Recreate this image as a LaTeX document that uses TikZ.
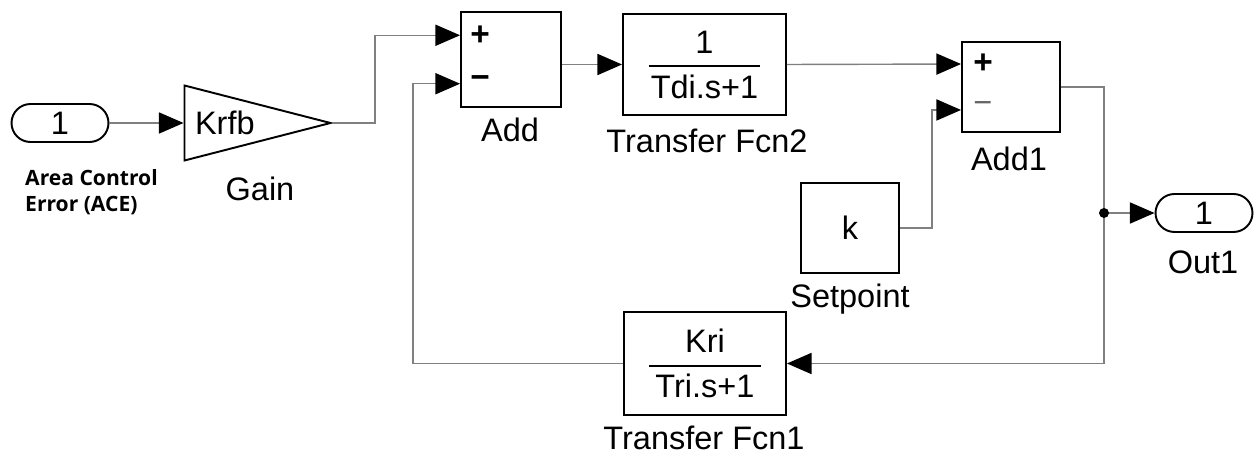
\documentclass[tikz,border=0pt]{standalone}
\usepackage{fontspec}
\setmainfont{Liberation Sans}
\newfontfamily\acefont{Open Sans}
\usetikzlibrary{shapes.geometric,shapes.misc,arrows.meta,calc}

% fraction d'une fonction de transfert
\newcommand{\simfrac}[2]{#1\\[-12pt]\rule{2.24cm}{1.1pt}\\[-2.4pt]#2}

\begin{document}
\begin{tikzpicture}[
  x=0.02cm, y=-0.02cm,
  every node/.style={font=\fontsize{18.5}{20}\selectfont},
  bloc/.style={rectangle,draw=black,line width=1.1pt,inner sep=0pt,
               align=center},
  port/.style={rounded rectangle,draw=black,line width=1.1pt,inner sep=0pt,
               minimum width=1.94cm,minimum height=0.76cm},
  gainbox/.style={isosceles triangle,isosceles triangle stretches,
                  shape border rotate=0,draw=black,line width=1.1pt,
                  inner sep=0pt,minimum width=1.5cm,minimum height=2.92cm},
  signe/.style={font=\fontsize{19}{20}\selectfont\bfseries},
  fil/.style={draw=black!50,line width=0.8pt},
  sig/.style={fil,-{Triangle[length=14pt,width=12pt,color=black]}}
]
  \useasboundingbox (0,0) rectangle (1255,455);

  % Entree
  \node[port] (in1) at (60,123) {1};
  \node[anchor=north west,align=left,
        font=\acefont\bfseries\fontsize{12}{15}\selectfont]
    (ace) at (19,163) {Area Control\\Error (ACE)};

  % Gain
  \node[gainbox,anchor=apex,
        label={[anchor=west,xshift=3pt]west:Krfb}]
    (gain) at (333,123) {};
  \node (gainlbl) at (260,189) {Gain};

  % Sommateur Add
  \node[bloc,minimum width=2cm,minimum height=1.9cm] (add) at (511,59.5) {};
  \coordinate (add-in1) at ($(add.north west)!0.25!(add.south west)$);
  \coordinate (add-in2) at ($(add.north west)!0.75!(add.south west)$);
  \node[signe,anchor=west] (add-p) at ($(add-in1)+(4,0)$) {+};
  \node[signe,anchor=west] (add-m) at ($(add-in2)+(4,-2)$) {−};
  \node (addlbl) at (510,130) {Add};

  % Transfer Fcn2
  \node[bloc,minimum width=3.26cm,minimum height=2.02cm]
    (tf2) at (704.5,64.5) {\simfrac{1}{Tdi.s+1}};
  \node (tf2lbl) at (707,141) {Transfer Fcn2};

  % Sommateur Add1
  \node[bloc,minimum width=1.96cm,minimum height=1.8cm] (add1) at (1011,87) {};
  \coordinate (add1-in1) at ($(add1.north west)!0.25!(add1.south west)$);
  \coordinate (add1-in2) at ($(add1.north west)!0.75!(add1.south west)$);
  \node[signe,anchor=west] (add1-p) at ($(add1-in1)+(6,0)$) {+};
  \node[anchor=west,text=black!60] (add1-m) at ($(add1-in2)+(6,-2)$) {−};
  \node (add1lbl) at (1009,159) {Add1};

  % Consigne
  \node[bloc,minimum width=1.96cm,minimum height=1.8cm] (setp) at (850,228) {k};
  \node (setplbl) at (850,299) {Setpoint};

  % Sortie
  \node[port] (out1) at (1204,213) {1};
  \node (out1lbl) at (1203,262) {Out1};
  \coordinate (branch) at (1104,213);

  % Transfer Fcn1
  \node[bloc,minimum width=3.24cm,minimum height=2.06cm]
    (tf1) at (705,363.5) {\simfrac{Kri}{Tri.s+1}};
  \node (tf1lbl) at (704,438) {Transfer Fcn1};

  % Liaisons
  \draw[sig] (in1.east) -- (gain.west);
  \draw[sig] (gain.apex) -- ++(42,0) |- (add-in1);
  \draw[sig] (add.east |- tf2.west) -- (tf2.west);
  \draw[sig] (tf2.east) -- (add1-in1);
  \draw[sig] (setp.east) -- ++(32,0) |- (add1-in2);
  \draw[fil] (add1.east) -| (branch);
  \draw[sig] (branch) |- (tf1.east);
  \draw[sig] (branch) -- (out1.west);
  \draw[sig] (tf1.west) -- ++(-210,0) |- (add-in2);
  \fill (branch) circle[radius=0.1cm];

\end{tikzpicture}
\end{document}
